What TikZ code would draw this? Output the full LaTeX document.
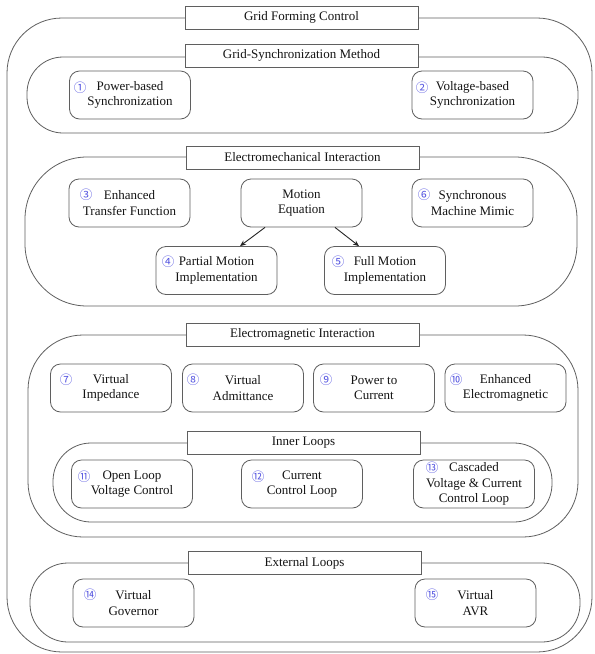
\documentclass[tikz,border=0pt]{standalone}
\usepackage{fontspec}
\setmainfont{Liberation Serif}
\newfontfamily\cjk{Noto Sans CJK SC}
\usetikzlibrary{arrows.meta}
\definecolor{linec}{RGB}{95,95,95}
\definecolor{textc}{RGB}{20,20,20}
\definecolor{numc}{RGB}{85,85,225}
\begin{document}
\begin{tikzpicture}[x=1pt,y=-1pt,
  frame/.style={draw=linec, line width=0.8pt, fill=none, inner sep=0pt},
  lbl/.style={draw=linec, line width=0.8pt, fill=white, minimum width=233pt, minimum height=23pt, inner sep=0pt, text=textc, font=\fontsize{13}{15.5}\selectfont},
  item/.style={draw=linec, line width=0.8pt, fill=white, rounded corners=10pt, minimum width=121pt, minimum height=48pt, inner sep=0pt, align=center, text=textc, font=\fontsize{13}{15.5}\selectfont},
  num/.style={inner sep=0pt, text=numc, font=\cjk\fontsize{12.5}{12.5}\selectfont},
  arr/.style={draw=black!85, line width=0.9pt, -{Stealth[length=6pt,width=5pt]}}
]
\useasboundingbox (0,0) rectangle (595,654);
\fill[white] (0,0) rectangle (595,654);

% outer frame
\node[frame, rounded corners=55pt, minimum width=585pt, minimum height=634pt] (outer) at (299.5,335) {};
\node[lbl] (gfc) at (301.5,17.5) {Grid Forming Control};

% group 1
\node[frame, rounded corners=36pt, minimum width=551pt, minimum height=76pt] (g1) at (302.5,95) {};
\node[lbl] (gsm) at (301.5,55.5) {Grid-Synchronization Method};
\node[item] (b1) at (130,95) {Power-based\\Synchronization};
\node[item] (b2) at (472.5,95) {Voltage-based\\Synchronization};
\node[num] (n1) at (80,88) {①};
\node[num] (n2) at (422,88) {②};

% group 2
\node[frame, rounded corners=62pt, minimum width=552pt, minimum height=149pt] (g2) at (301,231.5) {};
\node[lbl] (emech) at (302.5,157.5) {Electromechanical Interaction};
\node[item] (b3) at (129.5,203) {Enhanced\\Transfer Function};
\node[item] (me) at (301.5,203) {Motion\\Equation};
\node[item] (b6) at (472.5,203) {Synchronous\\Machine Mimic};
\node[item] (b4) at (216.5,270.5) {Partial Motion\\Implementation};
\node[item] (b5) at (385,270.5) {Full Motion\\Implementation};
\node[num] (n3) at (86,195) {③};
\node[num] (n4) at (168,262) {④};
\node[num] (n5) at (338,262) {⑤};
\node[num] (n6) at (424,195) {⑥};
\draw[arr] ([xshift=-36.5pt]me.south) -- ([xshift=23.5pt]b4.north);
\draw[arr] ([xshift=33.5pt]me.south) -- ([xshift=-26pt]b5.north);

% group 3
\node[frame, rounded corners=55pt, minimum width=550pt, minimum height=202pt] (g3) at (303,436) {};
\node[lbl] (emag) at (302.5,334.5) {Electromagnetic Interaction};
\node[item] (b7) at (111,388) {Virtual\\Impedance};
\node[item] (b8) at (243,388) {Virtual\\Admittance};
\node[item] (b9) at (374,388) {Power to\\Current};
\node[item] (b10) at (505.5,388) {Enhanced\\Electromagnetic};
\node[num] (n7) at (66,380) {⑦};
\node[num] (n8) at (193,380) {⑧};
\node[num] (n9) at (326,380) {⑨};
\node[num] (n10) at (456,380) {⑩};

% inner loops
\node[frame, rounded corners=38pt, minimum width=499pt, minimum height=79pt] (g3i) at (302.5,482.5) {};
\node[lbl] (inner) at (303.5,443) {Inner Loops};
\node[item] (b11) at (132,484) {Open Loop\\Voltage Control};
\node[item] (b12) at (302,484) {Current\\Control Loop};
\node[item] (b13) at (474,484) {Cascaded\\Voltage \& Current\\Control Loop};
\node[num] (n11) at (84,477) {⑪};
\node[num] (n12) at (258,477) {⑫};
\node[num] (n13) at (432,468) {⑬};

% group 4
\node[frame, rounded corners=38pt, minimum width=550pt, minimum height=79pt] (g4) at (305,602.5) {};
\node[lbl] (ext) at (304.5,563) {External Loops};
\node[item] (b14) at (133.5,603) {Virtual\\Governor};
\node[item] (b15) at (475.5,603) {Virtual\\AVR};
\node[num] (n14) at (90,595) {⑭};
\node[num] (n15) at (432,595) {⑮};
\end{tikzpicture}
\end{document}
